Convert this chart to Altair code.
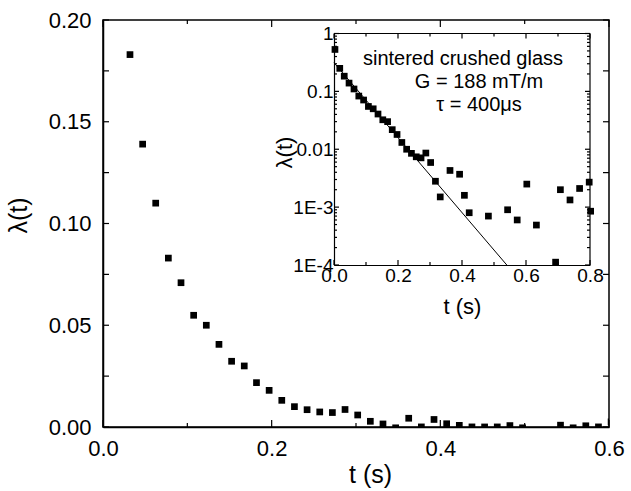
import altair as alt
import pandas as pd

# ---- data ----
t_vals = [0.003, 0.018, 0.032, 0.047, 0.0625, 0.0775, 0.0925, 0.1075, 0.1225, 0.1375,
          0.1525, 0.1675, 0.182, 0.197, 0.212, 0.227, 0.242, 0.257, 0.272, 0.287,
          0.302, 0.317, 0.332, 0.347, 0.3625, 0.3775, 0.3925, 0.4075, 0.4225, 0.4375,
          0.4525, 0.4675, 0.4825, 0.4975, 0.5425, 0.5575, 0.5725, 0.5875, 0.6025, 0.6325,
          0.6925, 0.7075, 0.7375, 0.7675, 0.7975, 0.802]
lam_vals = [0.53, 0.25, 0.183, 0.139, 0.110, 0.083, 0.0709, 0.0549, 0.0500, 0.0406,
            0.0323, 0.0300, 0.0218, 0.0180, 0.0131, 0.0100, 0.0085, 0.0074, 0.0071, 0.0086,
            0.0059, 0.0028, 0.0015, -0.0004, 0.0043, 0.00005, 0.0037, 0.0016, 0.0008, 0.00005,
            0.00003, 0.00004, 0.0007, -0.0004, 0.0009, -0.0004, 0.0006, 0.00005, 0.0025, 0.00049,
            0.000112, 0.0020, 0.00133, 0.0021, 0.0027, 0.00085]

# fitted exponential (straight line on the log inset), end points
fit_t = [0.0, 0.54]
fit_lam = [0.313, 0.0001]

inset_lines = ["sintered crushed glass", "G = 188 mT/m", "\u03c4 = 400\u03bcs"]

main_x_domain = [0.0, 0.6]
main_y_domain = [0.0, 0.2]
ins_x_domain = [0.0, 0.8]
ins_y_domain = [0.0001, 1.0]

main_x_major = [0.0, 0.2, 0.4, 0.6]
main_x_minor = [0.1, 0.3, 0.5]
main_y_ticks = [0.0, 0.025, 0.05, 0.075, 0.1, 0.125, 0.15, 0.175, 0.2]
main_y_labels = [0.0, 0.05, 0.1, 0.15, 0.2]
ins_x_major = [0.0, 0.2, 0.4, 0.6, 0.8]
ins_x_minor = [0.1, 0.3, 0.5, 0.7]
ins_y_major = [0.0001, 0.001, 0.01, 0.1, 1.0]
ins_y_minor = [k * d for d in [0.0001, 0.001, 0.01, 0.1] for k in range(2, 10)]

df = pd.DataFrame({"t": t_vals, "lam": lam_vals})
fit = pd.DataFrame({"t": fit_t, "lam": fit_lam})
txt = pd.DataFrame({"label": inset_lines, "row": [0, 1, 2]})

FONT = "Liberation Sans"
W, H = 506, 407
# inset plot-area edges (pixels inside the main plot area)
IL, IR, IT, IB = 231, 487, 13.5, 245

mx = alt.Scale(domain=main_x_domain, nice=False, zero=False)
my = alt.Scale(domain=main_y_domain, nice=False, zero=False)
ix = alt.Scale(domain=ins_x_domain, range=[IL, IR], nice=False, zero=False)
iy = alt.Scale(type="log", domain=ins_y_domain, range=[IB, IT], nice=False)


def xticks(vals, scale, y0, y1, w=1.2):
    return alt.Chart(pd.DataFrame({"v": vals})).mark_rule(
        color="black", strokeWidth=w).encode(
        x=alt.X("v:Q", scale=scale, axis=None), y=alt.value(y0), y2=alt.value(y1))


def yticks(vals, scale, x0, x1, w=1.2):
    return alt.Chart(pd.DataFrame({"v": vals})).mark_rule(
        color="black", strokeWidth=w).encode(
        y=alt.Y("v:Q", scale=scale, axis=None), x=alt.value(x0), x2=alt.value(x1))


# ---- main plot ----
main_pts = alt.Chart(df).mark_square(size=45, color="black", opacity=1, clip=True).encode(
    x=alt.X("t:Q", scale=mx, axis=alt.Axis(
        orient="bottom", values=main_x_major, format=".1f", ticks=False, tickSize=0,
        domain=True, domainColor="black", domainWidth=1.5, grid=False, labelFlush=False,
        labelFont=FONT, labelFontSize=22, labelColor="black", labelPadding=11,
        title="t (s)", titleFont=FONT, titleFontSize=25, titleFontWeight="normal",
        titleColor="black", titleX=267, titleY=55, titleBaseline="alphabetic",
        titleAlign="center")),
    y=alt.Y("lam:Q", scale=my, axis=alt.Axis(
        orient="left", values=main_y_labels, format=".2f", ticks=False, tickSize=0,
        domain=True, domainColor="black", domainWidth=1.5, grid=False, labelFlush=False,
        labelFont=FONT, labelFontSize=22, labelColor="black", labelPadding=12,
        title="\u03bb(t)", titleFont=FONT, titleFontSize=25, titleFontWeight="normal",
        titleColor="black", titleX=-85, titleY=195, titleAngle=270,
        titleBaseline="middle", titleAlign="center")),
)

main_ticks = [
    xticks(main_x_major, mx, H, H - 7),
    xticks(main_x_minor, mx, H, H - 4),
    xticks(main_x_major, mx, 0, 7),
    xticks(main_x_minor, mx, 0, 4),
    yticks(main_y_ticks, my, 0, 6),
    yticks(main_y_ticks, my, W, W - 6),
]

# ---- inset (log) ----
ylab_expr = ("datum.value > 0.5 ? '1' : datum.value > 0.05 ? '0.1' : "
             "datum.value > 0.005 ? '0.01' : datum.value > 0.0005 ? '1E-3' : '1E-4'")

i1 = alt.Chart(df).transform_filter("datum.lam >= 0.0001").mark_square(
    size=45, color="black", opacity=1).encode(
    x=alt.X("t:Q", scale=ix, axis=alt.Axis(
        orient="bottom", offset=-(H - IB), values=ins_x_major, format=".1f", ticks=False,
        tickSize=0, domain=True, domainColor="black", domainWidth=1.2, grid=False,
        labelFlush=False, labelFont=FONT, labelFontSize=19, labelColor="black",
        labelPadding=1, title="t (s)", titleFont=FONT, titleFontSize=22,
        titleFontWeight="normal", titleColor="black", titleX=359, titleY=48,
        titleBaseline="alphabetic", titleAlign="center")),
    y=alt.Y("lam:Q", scale=iy, axis=alt.Axis(
        orient="left", offset=-IL, values=ins_y_major, labelExpr=ylab_expr,
        ticks=False, tickSize=0, domain=True, domainColor="black", domainWidth=1.2,
        grid=False, labelFlush=False, labelFont=FONT, labelFontSize=19,
        labelColor="black", labelPadding=1, title="\u03bb(t)", titleFont=FONT,
        titleFontSize=22, titleFontWeight="normal", titleColor="black", titleX=-50,
        titleY=132, titleAngle=270, titleBaseline="middle", titleAlign="center")),
)
i_fit = alt.Chart(fit).mark_line(color="black", strokeWidth=1).encode(
    x=alt.X("t:Q", scale=ix, axis=None),
    y=alt.Y("lam:Q", scale=iy, axis=None),
)
frame = pd.DataFrame({"x0": [ins_x_domain[0]], "x1": [ins_x_domain[1]],
                      "y0": [ins_y_domain[0]], "y1": [ins_y_domain[1]]})
i_top = alt.Chart(frame).mark_rule(color="black", strokeWidth=1.2).encode(
    x=alt.X("x0:Q", scale=ix, axis=None), x2="x1:Q",
    y=alt.Y("y1:Q", scale=iy, axis=None))
i_right = alt.Chart(frame).mark_rule(color="black", strokeWidth=1.2).encode(
    x=alt.X("x1:Q", scale=ix, axis=None),
    y=alt.Y("y0:Q", scale=iy, axis=None), y2="y1:Q")

ins_ticks = [
    xticks(ins_x_major, ix, IB, IB - 5),
    xticks(ins_x_minor, ix, IB, IB - 3),
    xticks(ins_x_major, ix, IT, IT + 5),
    xticks(ins_x_minor, ix, IT, IT + 3),
    yticks(ins_y_major, iy, IL, IL + 5),
    yticks(ins_y_minor, iy, IL, IL + 3),
    yticks(ins_y_major, iy, IR, IR - 5),
    yticks(ins_y_minor, iy, IR, IR - 3),
]


def line_text(row, x, y):
    return alt.Chart(txt).transform_filter(f"datum.row == {row}").mark_text(
        font=FONT, fontSize=20, color="black", align="center",
        baseline="alphabetic").encode(text="label:N", x=alt.value(x), y=alt.value(y))


texts = [line_text(0, 360, 45), line_text(1, 376, 68), line_text(2, 376, 91)]

chart = alt.layer(
    main_pts, *main_ticks, i1, i_fit, i_top, i_right, *ins_ticks, *texts
).resolve_scale(
    x="independent", y="independent"
).resolve_axis(
    x="independent", y="independent"
).properties(
    width=W, height=H,
    autosize=alt.AutoSizeParams(type="none"),
    padding={"left": 103, "top": 20, "right": 22, "bottom": 64},
    background="white",
).configure_view(
    stroke="black", strokeWidth=1.5
)

chart.save("out.html", embed_options={"renderer": "svg", "actions": False})
